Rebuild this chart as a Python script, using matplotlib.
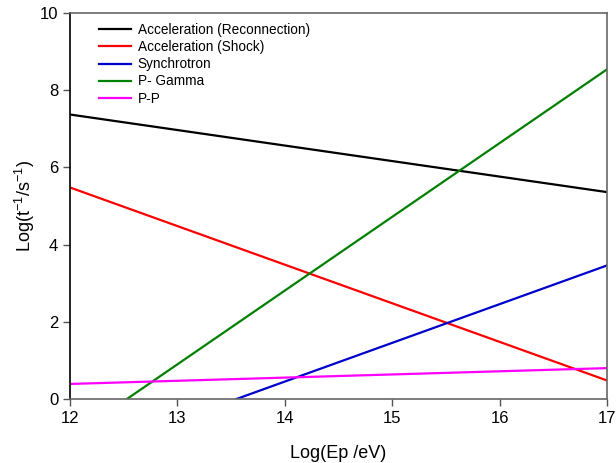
import numpy as np
import matplotlib
matplotlib.use('Agg')
import matplotlib.pyplot as plt

plt.rcParams['font.family'] = ['Liberation Sans', 'DejaVu Sans']
plt.rcParams['mathtext.default'] = 'regular'

# line end points
labels = ['Acceleration (Reconnection)', 'Acceleration (Shock)',
          'Synchrotron', 'P- Gamma', 'P-P']
colors = ['#000000', '#ff0000', '#0000cc', '#008000', '#ff00ff']
x_start = [12.0, 12.0, 13.55, 12.53, 12.0]
x_end = [17.0, 17.0, 17.0, 17.0, 17.0]
y_start = [7.37, 5.48, 0.0, 0.0, 0.39]
y_end = [5.36, 0.48, 3.46, 8.54, 0.80]

fig = plt.figure(figsize=(6.16, 4.63), dpi=100)
ax = fig.add_axes([70/616, 1 - 399/463, 537/616, 386/463])

for i in range(len(labels)):
    ax.plot([x_start[i], x_end[i]], [y_start[i], y_end[i]],
            color=colors[i], lw=1.6, label=labels[i])

ax.set_xlim(12, 17)
ax.set_ylim(0, 10)
ax.set_xticks(np.arange(12, 18, 1))
ax.set_yticks(np.arange(0, 11, 2))
ax.tick_params(direction='out', length=5, width=1, labelsize=12,
               color='#555555')
for side in ['top', 'right', 'bottom']:
    ax.spines[side].set_color('#666666')
ax.spines['left'].set_color('#000000')
for sp in ax.spines.values():
    sp.set_linewidth(1.2)

ax.set_xlabel('Log(Ep /eV)', fontsize=13, labelpad=14)
ax.set_ylabel('Log(t$^{-1}$/s$^{-1}$)', fontsize=13, labelpad=2)

ax.legend(loc='upper left', frameon=False, fontsize=9.8,
          handlelength=2.35, handletextpad=0.5, labelspacing=0.23,
          borderaxespad=0, bbox_to_anchor=(0.044, 0.988))

fig.savefig('out.png', dpi=100)
